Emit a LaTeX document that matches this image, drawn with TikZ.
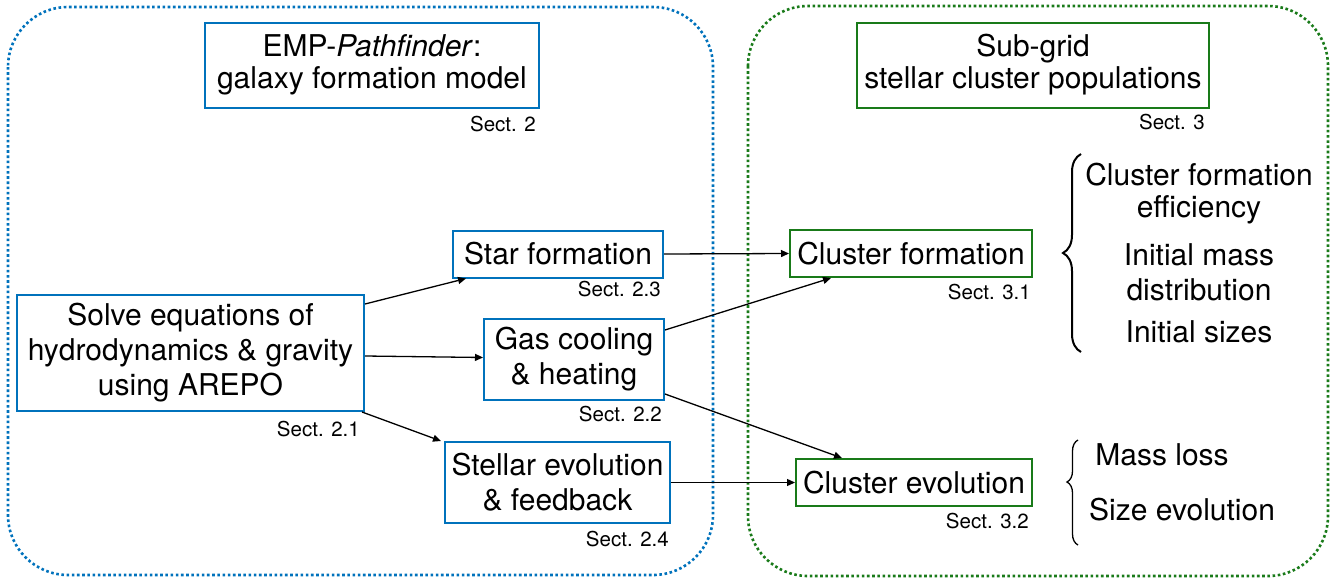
\documentclass[tikz,border=0pt]{standalone}
\usepackage{fontspec}
\setmainfont{TeX Gyre Heros}
\usetikzlibrary{arrows.meta,decorations.pathreplacing}

\definecolor{cblue}{RGB}{0,114,188}
\definecolor{cgreen}{RGB}{25,122,25}
\newcommand\mainsz{\fontsize{30}{35}\selectfont}
\newcommand\titlesz{\fontsize{30}{32}\selectfont}
\newcommand\sectsz{\fontsize{20.5}{24}\selectfont}

\tikzset{
  panel/.style={line width=2.6pt, dash pattern=on 2.6pt off 2.6pt, rounded corners=60pt},
  bluebox/.style={draw=cblue, line width=2pt, align=center, inner sep=0pt, font=\mainsz},
  greenbox/.style={draw=cgreen, line width=2pt, align=center, inner sep=0pt, font=\mainsz},
  sect/.style={font=\sectsz, inner sep=0pt, anchor=base east},
  conn/.style={-{Triangle[length=8pt,width=7pt]}, line width=1.3pt},
  listtext/.style={font=\mainsz, inner sep=0pt, anchor=base},
  curly/.style={decorate, decoration={brace, amplitude=#1}},
}

\begin{document}
\begin{tikzpicture}[x=1pt, y=-1pt]
\useasboundingbox (0,0) rectangle (1334,581);

% the two dotted panels
\draw[panel, cblue] (8,7) rectangle (713,575);
\draw[panel, cgreen] (748,6) rectangle (1328,576);

% panel titles
\node[bluebox, font=\titlesz, minimum width=334pt, minimum height=85pt] (emp) at (372,65)
  {EMP-\textit{Pathfinder}:\\galaxy formation model};
\node[sect] at ([xshift=-4pt, yshift=-23pt]emp.south east) {Sect. 2};

\node[greenbox, font=\titlesz, minimum width=352pt, minimum height=85pt] (sub) at (1033,65)
  {Sub-grid\\stellar cluster populations};
\node[sect] at ([xshift=-5pt, yshift=-21pt]sub.south east) {Sect. 3};

% galaxy formation model components
\node[bluebox, minimum width=347pt, minimum height=116pt] (solve) at (190.5,353)
  {Solve equations of\\hydrodynamics \& gravity\\using AREPO};
\node[sect] at ([xshift=-5pt, yshift=-24pt]solve.south east) {Sect. 2.1};

\node[bluebox, minimum width=210pt, minimum height=47pt] (star) at (558,254) {Star formation};
\node[sect] at ([xshift=-3pt, yshift=-18pt]star.south east) {Sect. 2.3};

\node[bluebox, minimum width=180pt, minimum height=81pt] (gas) at (574,359.5)
  {Gas cooling\\\& heating};
\node[sect] at ([xshift=-3pt, yshift=-20pt]gas.south east) {Sect. 2.2};

\node[bluebox, minimum width=225pt, minimum height=81pt] (stellar) at (557.5,482.5)
  {Stellar evolution\\\& feedback};
\node[sect] at ([xshift=-2pt, yshift=-22pt]stellar.south east) {Sect. 2.4};

% cluster model components
\node[greenbox, minimum width=242pt, minimum height=47pt] (clf) at (911,253.5) {Cluster formation};
\node[sect] at ([xshift=-2pt, yshift=-21pt]clf.south east) {Sect. 3.1};

\node[greenbox, minimum width=236pt, minimum height=47pt] (cle) at (914,482.5) {Cluster evolution};
\node[sect] at ([xshift=-4pt, yshift=-21pt]cle.south east) {Sect. 3.2};

% connectors
\draw[conn] ([yshift=-10pt]solve.north east) -- ([xshift=14pt]star.south west);
\draw[conn] ([yshift=-3pt]solve.east) -- ([yshift=2pt]gas.west);
\draw[conn] ([xshift=-3pt]solve.south east) -- ([xshift=-3pt]stellar.north west);
\draw[conn] (star.east) -- (clf.west);
\draw[conn] ([yshift=-12pt]gas.north east) -- ([xshift=42pt]clf.south west);
\draw[conn] ([yshift=7pt]gas.south east) -- ([xshift=47pt]cle.north west);
\draw[conn] (stellar.east) -- (cle.west);

% properties set at formation
\coordinate (b1s) at (1081,352);
\coordinate (b1e) at (1081,154);
\draw[curly=18pt, line width=2pt] (b1s) -- (b1e);
\node[listtext] (l1) at (1199,185) {Cluster formation};
\node[listtext] (l2) at (1199,217) {efficiency};
\node[listtext] (l3) at (1199,265) {Initial mass};
\node[listtext] (l4) at (1199,300) {distribution};
\node[listtext] (l5) at (1199,342) {Initial sizes};

% properties that evolve
\coordinate (b2s) at (1078,545);
\coordinate (b2e) at (1078,440);
\draw[decorate, decoration={brace, amplitude=11pt, aspect=0.6}, line width=1.3pt] (b2s) -- (b2e);
\node[listtext] (m1) at (1162,465) {Mass loss};
\node[listtext] (m2) at (1182,520) {Size evolution};
\end{tikzpicture}
\end{document}
